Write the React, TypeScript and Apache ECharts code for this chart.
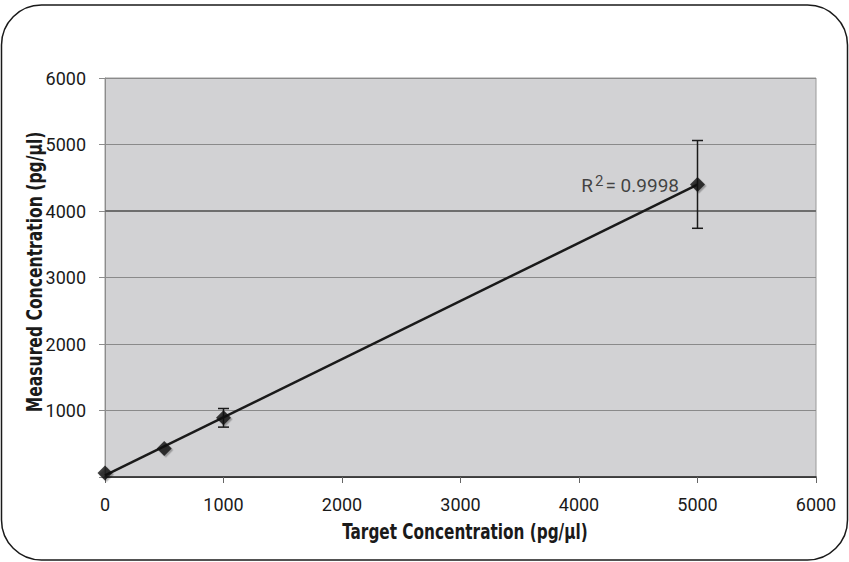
import React, { useEffect, useRef } from "react";
import * as echarts from "echarts";

const targetConc = [0, 500, 1000, 5000];
const measuredConc = [60, 428, 890, 4400];
const errorAmount = [0, 0, 140, 660];
const xTicks = [0, 1000, 2000, 3000, 4000, 5000, 6000];
const yTicks = [0, 1000, 2000, 3000, 4000, 5000, 6000];
const rSquaredText = "0.9998";
const xTitle = "Target Concentration (pg/µl)";
const yTitle = "Measured Concentration (pg/µl)";

const FONT = '"Roboto", "Liberation Sans", sans-serif';
const TITLE_FONT = '"DejaVu Sans Condensed", "DejaVu Sans", sans-serif';

function linearFit(xs: number[], ys: number[]) {
  const n = xs.length;
  const mx = xs.reduce((a, b) => a + b, 0) / n;
  const my = ys.reduce((a, b) => a + b, 0) / n;
  let sxy = 0, sxx = 0;
  for (let i = 0; i < n; i++) {
    sxy += (xs[i] - mx) * (ys[i] - my);
    sxx += (xs[i] - mx) * (xs[i] - mx);
  }
  const slope = sxy / sxx;
  return { slope, intercept: my - slope * mx };
}

export default function App() {
  const ref = useRef<HTMLDivElement>(null);
  useEffect(() => {
    if (!ref.current) return;
    const chart = echarts.init(ref.current, null, { renderer: "svg" });
    const fit = linearFit(targetConc, measuredConc);
    const xMin = targetConc[0];
    const xMax = targetConc[targetConc.length - 1];
    const trend = [
      [xMin, fit.intercept + fit.slope * xMin],
      [xMax, fit.intercept + fit.slope * xMax],
    ];
    const errData = targetConc.map((x, i) => [x, measuredConc[i], errorAmount[i]]);
    const pointData = targetConc.map((x, i) => {
      const item: any = { value: [x, measuredConc[i]] };
      if (i === targetConc.length - 1) {
        item.label = {
          show: true,
          position: "left",
          distance: 11,
          formatter: "{r|R}{s|2}{r|= " + rSquaredText + "}",
          rich: {
            r: { fontFamily: FONT, fontSize: 19, color: "#1a1a1a", verticalAlign: "bottom", lineHeight: 22 },
            s: { fontFamily: FONT, fontSize: 15, color: "#1a1a1a", verticalAlign: "top", lineHeight: 22, padding: [0, 2, 8, 2] },
          },
        };
      }
      return item;
    });

    chart.setOption({
      animation: false,
      grid: {
        left: 105,
        right: 33,
        top: 78,
        bottom: 85,
        show: true,
        backgroundColor: "#d2d2d4",
        borderColor: "#9a9a9a",
        borderWidth: 1,
      },
      graphic: [
        {
          type: "rect",
          shape: { x: 1.5, y: 5, width: 846, height: 555, r: 40 },
          style: { fill: "none", stroke: "#1a1a1a", lineWidth: 1.5 },
          silent: true,
          z: 100,
        },
        {
          type: "text",
          x: 465,
          y: 532,
          scaleX: 0.81,
          style: {
            text: xTitle,
            font: "bold 21px " + TITLE_FONT,
            fill: "#1a1a1a",
            textAlign: "center",
            textVerticalAlign: "middle",
          },
          silent: true,
        },
        {
          type: "text",
          x: 35,
          y: 272,
          rotation: Math.PI / 2,
          scaleX: 0.825,
          style: {
            text: yTitle,
            font: "bold 21px " + TITLE_FONT,
            fill: "#1a1a1a",
            textAlign: "center",
            textVerticalAlign: "middle",
          },
          silent: true,
        },
      ],
      xAxis: {
        type: "value",
        min: xTicks[0],
        max: xTicks[xTicks.length - 1],
        interval: xTicks[1] - xTicks[0],
        axisLine: { show: true, onZero: false, lineStyle: { color: "#222", width: 1.5 } },
        axisTick: { show: true, inside: false, length: 6, lineStyle: { color: "#666" } },
        axisLabel: {
          margin: 18,
          fontFamily: FONT,
          fontSize: 18,
          color: "#1a1a1a",
          formatter: (v: number) => String(v),
        },
        splitLine: { show: false },
      },
      yAxis: {
        type: "value",
        min: yTicks[0],
        max: yTicks[yTicks.length - 1],
        interval: yTicks[1] - yTicks[0],
        axisLine: { show: true, onZero: false, lineStyle: { color: "#8c8c8c", width: 1 } },
        axisTick: { show: true, inside: false, length: 6, lineStyle: { color: "#8c8c8c" } },
        axisLabel: {
          margin: 19,
          fontFamily: FONT,
          fontSize: 18,
          color: "#1a1a1a",
          formatter: (v: number) => (v === 0 ? "" : String(v)),
        },
        splitLine: { show: true, lineStyle: { color: "#8a8a8a", width: 1 } },
      },
      series: [
        {
          type: "line",
          data: trend,
          symbol: "none",
          lineStyle: { color: "#1a1a1a", width: 2.5 },
          z: 3,
          markLine: {
            silent: true,
            symbol: "none",
            label: { show: false },
            lineStyle: { color: "#6e6e6e", width: 2, type: "solid" },
            data: [{ yAxis: 4000 }],
            z: 1,
          },
        },
        {
          type: "custom",
          data: errData,
          z: 4,
          renderItem: (params: any, api: any) => {
            const x = api.value(0);
            const y = api.value(1);
            const e = api.value(2);
            if (!e) return null;
            const top = api.coord([x, y + e]);
            const bot = api.coord([x, y - e]);
            const hw = 5.5;
            const st = { stroke: "#1a1a1a", lineWidth: 1.5 };
            return {
              type: "group",
              children: [
                { type: "line", shape: { x1: top[0], y1: top[1], x2: bot[0], y2: bot[1] }, style: st },
                { type: "line", shape: { x1: top[0] - hw, y1: top[1], x2: top[0] + hw, y2: top[1] }, style: st },
                { type: "line", shape: { x1: bot[0] - hw, y1: bot[1], x2: bot[0] + hw, y2: bot[1] }, style: st },
              ],
            };
          },
        },
        {
          type: "scatter",
          data: pointData,
          symbol: "diamond",
          symbolSize: 15,
          z: 5,
          itemStyle: {
            color: "#111",
            shadowColor: "rgba(0,0,0,0.35)",
            shadowOffsetX: 1.5,
            shadowOffsetY: 1.5,
            shadowBlur: 1,
          },
        },
      ],
    });
    return () => chart.dispose();
  }, []);
  return (
    <div
      ref={ref}
      style={{ position: "fixed", left: 0, top: 0, width: 849, height: 562, background: "#fff" }}
    />
  );
}
